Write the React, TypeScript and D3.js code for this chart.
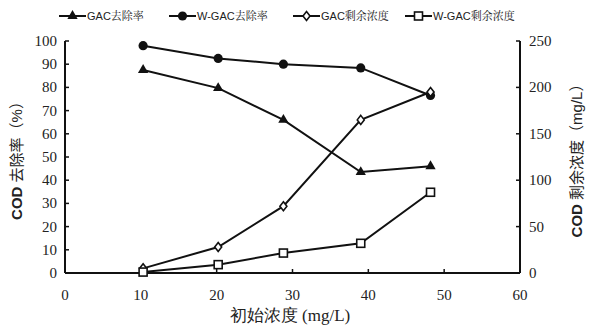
import React from 'react';
import * as d3 from 'd3';

const conc = [10.3, 20.2, 28.8, 39, 48.2];
const gacRemoval = [87.5, 79.7, 66, 43.5, 46];
const wgacRemoval = [98, 92.5, 90, 88.4, 76.5];
const gacResidual = [5, 28, 72, 165, 195];
const wgacResidual = [1, 9, 21.5, 32, 87];
const xTicks = [0, 10, 20, 30, 40, 50, 60];
const leftTicks = [0, 10, 20, 30, 40, 50, 60, 70, 80, 90, 100];
const rightTicks = [0, 50, 100, 150, 200, 250];
const legendNames = ['GAC去除率', 'W-GAC去除率', 'GAC剩余浓度', 'W-GAC剩余浓度'];

const W = 593, H = 327;
const INK = '#111';
const TXT = '#222';

const x = d3.scaleLinear().domain([0, 60]).range([65, 520]);
const yL = d3.scaleLinear().domain([0, 100]).range([273, 41]);
const yR = d3.scaleLinear().domain([0, 250]).range([273, 41]);

function Marker({ type, cx, cy }) {
	if (type === 'tri') {
		return <path d={d3.symbol(d3.symbolTriangle, 46)()} transform={`translate(${cx},${cy})`} fill={INK} />;
	}
	if (type === 'circle') {
		return <circle cx={cx} cy={cy} r={4.6} fill={INK} />;
	}
	if (type === 'diamond') {
		return <path d="M0,-4.5L3.5,0L0,4.5L-3.5,0Z" transform={`translate(${cx},${cy})`} fill="#fff" stroke={INK} strokeWidth={1.6} />;
	}
	return <rect x={cx - 4} y={cy - 4} width={8} height={8} fill="#fff" stroke={INK} strokeWidth={1.6} />;
}

export default function App() {
	const series = [
		{ vals: gacRemoval, y: yL, m: 'tri' },
		{ vals: wgacRemoval, y: yL, m: 'circle' },
		{ vals: gacResidual, y: yR, m: 'diamond' },
		{ vals: wgacResidual, y: yR, m: 'square' },
	];
	const lx = [59, 169, 293, 405];

	return (
		<svg width={W} height={H} style={{ position: 'absolute', left: 0, top: 0, background: '#fff' }}>
			{/* axes lines */}
			<line x1={x(0)} x2={x(60)} y1={273} y2={273} stroke={INK} strokeWidth={2} />
			<line x1={65} x2={65} y1={yL(100)} y2={yL(0)} stroke={INK} strokeWidth={2} />
			<line x1={520} x2={520} y1={yR(250)} y2={yR(0)} stroke={INK} strokeWidth={2} />

			{xTicks.map(t => (
				<g key={'x' + t}>
					<line x1={x(t)} x2={x(t)} y1={273} y2={269} stroke={INK} strokeWidth={1.5} />
					<text x={x(t)} y={300} textAnchor="middle" fontFamily="Liberation Serif" fontSize={15} fill={TXT}>{t}</text>
				</g>
			))}
			{leftTicks.map(t => (
				<g key={'l' + t}>
					<line x1={65} x2={69} y1={yL(t)} y2={yL(t)} stroke={INK} strokeWidth={1.5} />
					<text x={57} y={yL(t) + 5} textAnchor="end" fontFamily="Liberation Serif" fontSize={15} fill={TXT}>{t}</text>
				</g>
			))}
			{rightTicks.map(t => (
				<g key={'r' + t}>
					<line x1={520} x2={516} y1={yR(t)} y2={yR(t)} stroke={INK} strokeWidth={1.5} />
					<text x={529} y={yR(t) + 5} textAnchor="start" fontFamily="Liberation Serif" fontSize={15} fill={TXT}>{t}</text>
				</g>
			))}

			{series.map((s, si) => {
				const line = d3.line().x((d, i) => x(conc[i])).y(d => s.y(d));
				return <path key={'p' + si} d={line(s.vals)} fill="none" stroke={INK} strokeWidth={2} />;
			})}
			{series.map((s, si) => (
				<g key={'m' + si}>
					{s.vals.map((v, i) => <Marker key={i} type={s.m} cx={x(conc[i])} cy={s.y(v)} />)}
				</g>
			))}

			{/* legend */}
			{series.map((s, i) => (
				<g key={'lg' + i}>
					<line x1={lx[i]} x2={lx[i] + 27} y1={16} y2={16} stroke={INK} strokeWidth={2} />
					<Marker type={s.m} cx={lx[i] + 13.5} cy={16} />
					<text x={lx[i] + 28} y={20} fontFamily="Liberation Sans, Noto Serif CJK SC" fontSize={11} fill={TXT}>{legendNames[i]}</text>
				</g>
			))}

			{/* titles */}
			<text x={290} y={321} textAnchor="middle" fontFamily="Liberation Serif" fontSize={17} fill={TXT}>初始浓度 (mg/L)</text>
			<text transform="translate(22,157) rotate(-90)" textAnchor="middle" fontFamily="Liberation Sans, Noto Sans CJK SC" fontSize={15} fill={TXT}>
				<tspan fontWeight="bold">COD</tspan> 去除率（%）
			</text>
			<text transform="translate(582,157) rotate(-90)" textAnchor="middle" fontFamily="Liberation Sans, Noto Sans CJK SC" fontSize={15} fill={TXT}>
				<tspan fontWeight="bold">COD</tspan> 剩余浓度（mg/L）
			</text>
		</svg>
	);
}
